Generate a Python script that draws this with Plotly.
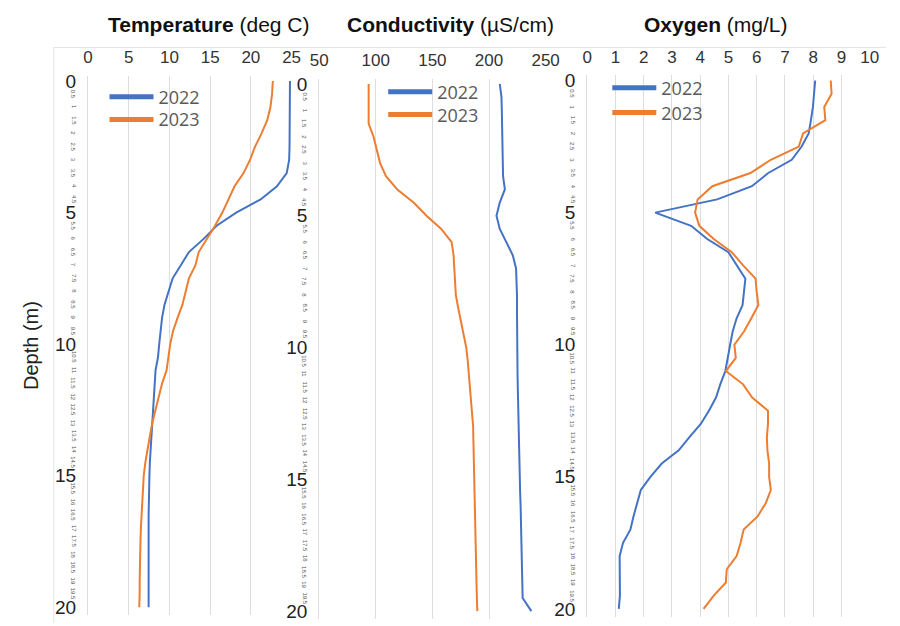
import plotly.graph_objects as go

# ---------------- data ----------------
depth = [i * 0.5 for i in range(41)]  # 0 .. 20 m

temp_2022 = [24.8, 24.8, 24.8, 24.8, 24.8, 24.75, 24.7, 24.4, 23.2, 21.2,
             18.2, 15.8, 14.2, 12.4, 11.4, 10.4, 9.9, 9.4, 9.1, 8.9,
             8.75, 8.6, 8.3, 8.2, 8.1, 8.0, 7.85, 7.75, 7.65, 7.6,
             7.55, 7.5, 7.5, 7.45, 7.45, 7.45, 7.45, 7.45, 7.45, 7.45, 7.45]
temp_2023 = [22.7, 22.6, 22.4, 22.0, 21.3, 20.5, 19.9, 19.1, 18.0, 17.3,
             16.5, 15.6, 14.6, 13.6, 13.2, 12.4, 12.0, 11.6, 11.0, 10.45,
             10.1, 9.9, 9.65, 9.1, 8.7, 8.3, 7.9, 7.6, 7.3, 7.05,
             6.85, 6.75, 6.65, 6.55, 6.5, 6.45, 6.4, 6.4, 6.35, 6.35, 6.3]

cond_2022 = [209.5, 211, 211.3, 211.6, 211.8, 212, 212.2, 212.4, 214, 209.5,
             206.6, 209.5, 215.3, 221, 223.9, 224.5, 224.7, 224.7, 224.7, 224.7,
             224.7, 225, 225.2, 225.4, 225.6, 225.9, 226.1, 226.3, 226.6, 226.9,
             227.2, 227.5, 227.9, 228.2, 228.5, 228.8, 229.0, 229.3, 229.5, 229.7, 237.4]
cond_2023 = [93.7, 93.7, 93.7, 93.7, 98, 100.9, 103.8, 109, 119, 133.4,
             144.8, 157.8, 167, 168.7, 169.3, 170, 170.7, 172.8, 175, 177.3,
             179.9, 181.2, 182.2, 183.4, 184.5, 185.3, 186, 186.2, 186.4, 186.6,
             186.8, 187, 187.2, 187.5, 187.8, 188.1, 188.4, 188.7, 189.0, 189.3, 189.7]

oxy_2022 = [8.07, 8.03, 7.99, 7.92, 7.84, 7.59, 7.24, 6.41, 5.83, 4.6,
            2.41, 3.68, 4.25, 5.0, 5.29, 5.6, 5.55, 5.5, 5.29, 5.15,
            5.06, 4.98, 4.89, 4.71, 4.56, 4.31, 4.02, 3.62, 3.24, 2.64,
            2.24, 1.9, 1.76, 1.64, 1.53, 1.27, 1.15, 1.15, 1.16, 1.16, 1.12]
oxy_2023 = [8.62, 8.65, 8.39, 8.43, 7.64, 7.49, 6.5, 5.78, 4.43, 3.91,
            3.82, 3.97, 4.48, 5.12, 5.52, 5.96, 6.0, 6.06, 5.81, 5.55,
            5.21, 5.26, 4.91, 5.52, 5.84, 6.4, 6.4, 6.36, 6.38, 6.44,
            6.44, 6.5, 6.32, 6.03, 5.54, 5.43, 5.29, 4.94, 4.91, 4.48, 4.12]

years = ["2022", "2023"]
colors = {"2022": "#4472C4", "2023": "#ED7D31"}

panels = [
    dict(title="<b>Temperature</b> (deg C)", data={"2022": temp_2022, "2023": temp_2023},
         xrange=[0, 25], dtick=5, px=(81, 290), y0=77.0, ys=26.65, title_x=205,
         leg={"2022": (98, 74.5), "2023": (98, 97.5)}),
    dict(title="<b>Conductivity</b> (µS/cm)", data={"2022": cond_2022, "2023": cond_2023},
         xrange=[50, 250], dtick=50, px=(318.3, 550.7), y0=80.0, ys=26.7, title_x=453,
         leg={"2022": (384, 69.5), "2023": (384, 92.5)}),
    dict(title="<b>Oxygen</b> (mg/L)", data={"2022": oxy_2022, "2023": oxy_2023},
         xrange=[0, 10], dtick=1, px=(593.3, 883.3), y0=76.5, ys=26.76, title_x=726,
         leg={"2022": (614, 65.5), "2023": (614, 90.5)}),
]

big_ticks = [0, 5, 10, 15, 20]
small_ticks = [d for d in depth if d % 5 != 0]

W, H = 900, 626
yr_top, yr_bot = -0.2, 20.3

fig = go.Figure()
layout = dict(
    width=W, height=H, margin=dict(l=0, r=0, t=0, b=0),
    paper_bgcolor="white", plot_bgcolor="white", showlegend=True,
    font=dict(family="Liberation Sans, Arial, sans-serif", color="#222222"),
)
annotations = []
shapes = [
    dict(type="line", xref="paper", yref="paper", x0=46 / W, x1=1, y0=1 - 43 / H, y1=1 - 43 / H,
         line=dict(color="#E3E3E3", width=1)),
    dict(type="line", xref="paper", yref="paper", x0=46 / W, x1=46 / W, y0=0, y1=1 - 43 / H,
         line=dict(color="#E3E3E3", width=1)),
]

leg_n = 0
for i, p in enumerate(panels, start=1):
    xa = "x" if i == 1 else f"x{i}"
    ya = "y" if i == 1 else f"y{i}"
    for yr in years:
        fig.add_trace(go.Scatter(x=p["data"][yr], y=depth, mode="lines", xaxis=xa, yaxis=ya,
                                 line=dict(color=colors[yr], width=2), showlegend=False,
                                 hoverinfo="skip"))
    for yr in years:
        leg_n += 1
        leg = "legend" if leg_n == 1 else f"legend{leg_n}"
        fig.add_trace(go.Scatter(x=[None], y=[None], mode="lines", xaxis=xa, yaxis=ya,
                                 line=dict(color=colors[yr], width=5), name=yr, legend=leg,
                                 showlegend=True))
        lx, ly = p["leg"][yr]
        layout[leg] = dict(
            x=lx / W, y=1 - ly / H, xanchor="left", yanchor="top",
            bgcolor="rgba(0,0,0,0)", borderwidth=0, itemwidth=44,
            font=dict(family="Open Sans, Noto Sans, sans-serif", size=18, color="#595959"),
        )
    ytop = p["y0"] + yr_top * p["ys"]
    ybot = p["y0"] + yr_bot * p["ys"]
    xkey = "xaxis" if i == 1 else f"xaxis{i}"
    ykey = "yaxis" if i == 1 else f"yaxis{i}"
    layout[xkey] = dict(
        domain=[p["px"][0] / W, p["px"][1] / W], range=p["xrange"], dtick=p["dtick"],
        tick0=p["xrange"][0], side="top", anchor=ya, showgrid=True, gridcolor="#DDDDDD",
        gridwidth=1, zeroline=False, showline=False, ticks="",
        tickfont=dict(size=17, color="#333333"), ticklabelstandoff=8, fixedrange=True,
    )
    layout[ykey] = dict(
        domain=[1 - ybot / H, 1 - ytop / H], range=[yr_bot, yr_top], anchor=xa,
        tickvals=big_ticks, ticktext=[str(t) for t in big_ticks], showgrid=False,
        zeroline=False, showline=True, linecolor="#DDDDDD", linewidth=1, ticks="",
        tickfont=dict(size=19, color="#222222"), ticklabelstandoff=7, fixedrange=True,
    )
    for d in small_ticks:
        annotations.append(dict(
            xref="paper", yref=ya, x=(p["px"][0] - 15) / W, y=d, text=f"{d:g}",
            showarrow=False, textangle=90, xanchor="center", yanchor="middle",
            font=dict(size=6, color="#555555"),
        ))
    annotations.append(dict(
        xref="paper", yref="paper", x=p["title_x"] / W, y=1 - 20 / H, text=p["title"],
        showarrow=False, xanchor="center", yanchor="middle",
        font=dict(size=21, color="#111111"),
    ))

annotations.append(dict(
    xref="paper", yref="paper", x=22 / W, y=1 - 345 / H, text="Depth (m)", showarrow=False,
    textangle=-90, xanchor="center", yanchor="middle", font=dict(size=20, color="#222222"),
))

layout["annotations"] = annotations
layout["shapes"] = shapes
fig.update_layout(**layout)
fig.write_html("out.html")
